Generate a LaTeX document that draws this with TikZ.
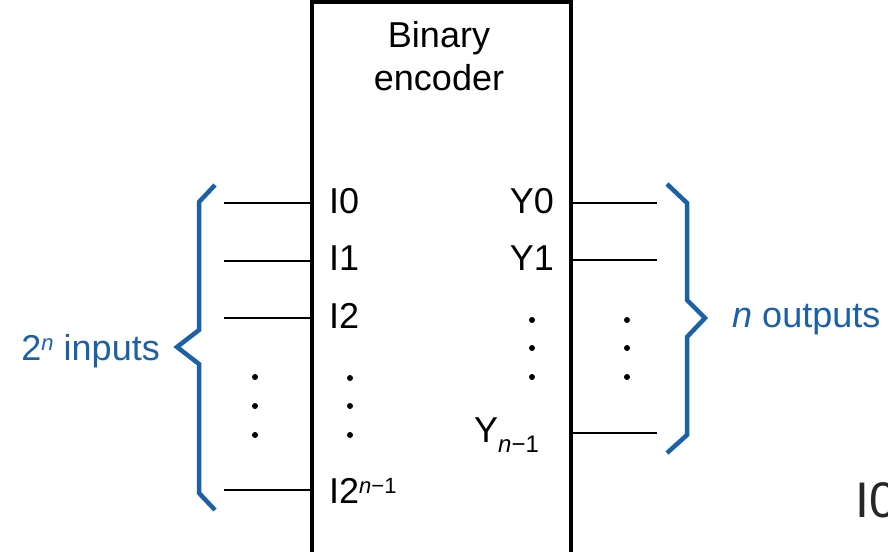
\documentclass[tikz,border=0pt]{standalone}
\usepackage{fontspec}
\setmainfont{Liberation Sans}
\definecolor{braceblue}{RGB}{28,96,168}
\newcommand{\supt}[1]{\raisebox{10pt}{\fontsize{22}{22}\selectfont #1}}
\newcommand{\subt}[1]{\raisebox{-10pt}{\fontsize{24}{24}\selectfont #1}}

\begin{document}
\begin{tikzpicture}[x=1pt,y=-1pt]
\tikzstyle{every node}=[inner sep=0pt,font=\fontsize{36}{42}\selectfont];
\tikzstyle{wire}=[line width=2pt];
\tikzstyle{bracket}=[line width=4.5pt,braceblue,line join=miter];
\tikzstyle{dot}=[circle,fill=black,minimum size=6pt];
\useasboundingbox (0,0) rectangle (888,551);
\clip (0,0) rectangle (888,551);

% the encoder box
\draw[line width=4pt] (312,2) rectangle (571,600);
\node[anchor=base](T1) at(439,48){Binary};
\node[anchor=base](T2) at(439,90){encoder};

% inputs
\coordinate (A0) at(224,203); \coordinate (B0) at(312,203);
\coordinate (A1) at(224,261); \coordinate (B1) at(312,261);
\coordinate (A2) at(224,318); \coordinate (B2) at(312,318);
\coordinate (A3) at(224,490); \coordinate (B3) at(312,490);
\draw[wire] (A0)-- (B0);
\draw[wire] (A1)-- (B1);
\draw[wire] (A2)-- (B2);
\draw[wire] (A3)-- (B3);
\node[anchor=base west](I0) at(329,213){I0};
\node[anchor=base west](I1) at(329,270){I1};
\node[anchor=base west](I2) at(329,328){I2};
\node[anchor=base west](I3) at(329,503){I2\supt{\textit{n}−1}};

% outputs
\coordinate (C0) at(571,203); \coordinate (D0) at(657,203);
\coordinate (C1) at(571,260); \coordinate (D1) at(657,260);
\coordinate (C2) at(571,433); \coordinate (D2) at(657,433);
\draw[wire] (C0)-- (D0);
\draw[wire] (C1)-- (D1);
\draw[wire] (C2)-- (D2);
\node[anchor=base east](Y0) at(554,213){Y0};
\node[anchor=base east](Y1) at(554,270){Y1};
\node[anchor=base west](Y2) at(474,442){Y\subt{\textit{n}−1}};

% dots
\foreach \x/\y in {255/377,255/406,255/435,350/378,350/406,350/435,532/320,532/348,532/377,627/320,627/348,627/377}
  \node[dot] at(\x,\y){};

% braces
\draw[bracket] (215,185)-- (199,202)-- (199,330)-- (177,347)-- (199,364)-- (199,493)-- (215,510);
\draw[bracket] (667,184)-- (687,203)-- (687,300)-- (705,318)-- (687,337)-- (687,435)-- (667,453);
\node[anchor=base east,braceblue](IN) at(160,360){2\supt{\textit{n}} inputs};
\node[anchor=base west,braceblue](OUT) at(732,327){\textit{n} outputs};

% cut-off text
\node[anchor=base west,font=\fontsize{50}{50}\selectfont,black!85](X) at(855,517){I0};
\end{tikzpicture}
\end{document}
